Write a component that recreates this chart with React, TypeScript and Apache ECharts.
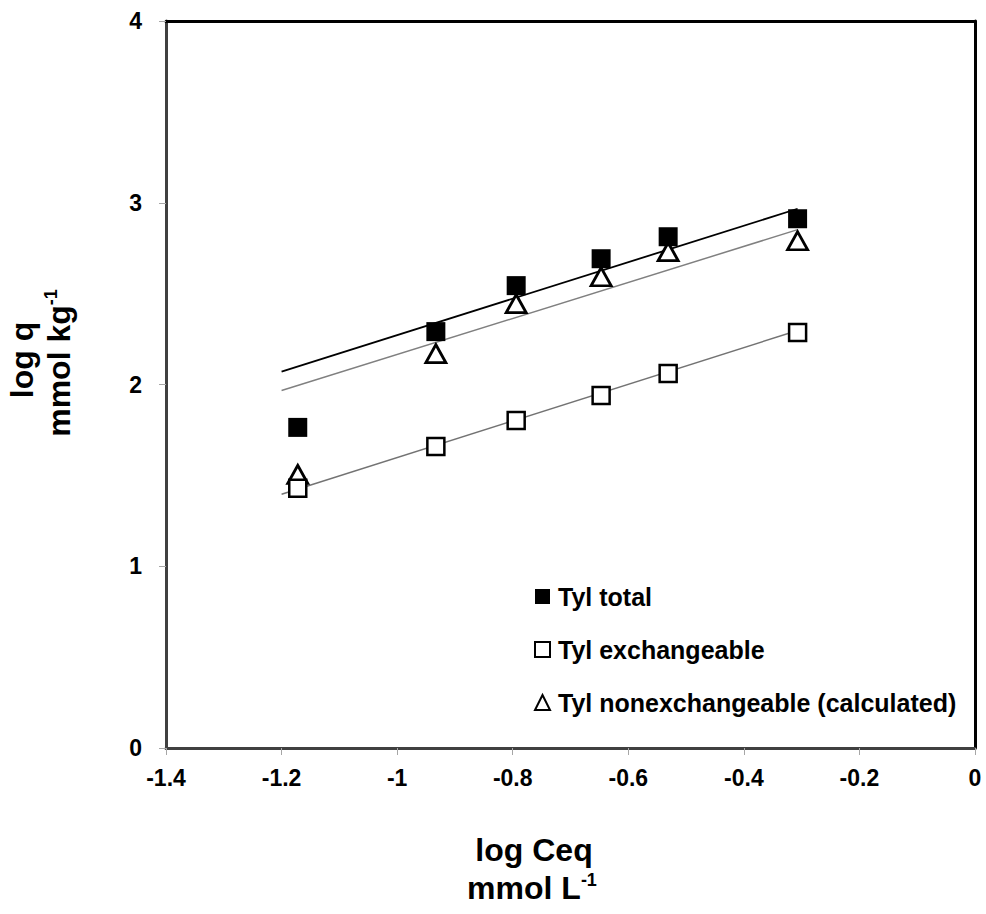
import React, { useEffect, useRef } from "react";
import * as echarts from "echarts";

// Measured points: log Ceq vs log q for each fraction
const logCeq = [-1.172, -0.933, -0.794, -0.647, -0.531, -0.307];
const tylTotal = [1.764, 2.291, 2.544, 2.692, 2.813, 2.912];
const tylExchangeable = [1.429, 1.659, 1.802, 1.94, 2.06, 2.286];
const tylNonexchangeable = [1.505, 2.17, 2.445, 2.593, 2.731, 2.791];

// Linear fit end points (Freundlich lines)
const fitX = [-1.2, -0.307];
const fitTotal = [2.071, 2.967];
const fitNonexchangeable = [1.967, 2.852];
const fitExchangeable = [1.396, 2.297];

const seriesNames = [
  "Tyl total",
  "Tyl exchangeable",
  "Tyl nonexchangeable (calculated)",
];

const FONT = "'Liberation Sans', Arial, Helvetica, sans-serif";

const pair = (xs: number[], ys: number[]) => xs.map((x, i) => [x, ys[i]]);

export default function App() {
  const ref = useRef<HTMLDivElement>(null);

  useEffect(() => {
    if (!ref.current) return;
    const chart = echarts.init(ref.current, undefined, { renderer: "svg" });

    const titleRich = {
      a: { fontSize: 32, fontWeight: "bold", fontFamily: FONT, color: "#000", lineHeight: 35 },
      s: {
        fontSize: 18,
        fontWeight: "bold",
        fontFamily: FONT,
        color: "#000",
        lineHeight: 35,
        verticalAlign: "top",
      },
    };

    chart.setOption({
      animation: false,
      backgroundColor: "#fff",
      grid: { left: 166, right: 11, top: 21, bottom: 166, containLabel: false },
      xAxis: [
        {
          type: "value",
          min: -1.4,
          max: 0,
          interval: 0.2,
          axisLine: { show: true, onZero: false, lineStyle: { color: "#404040", width: 3 } },
          axisTick: { show: true, inside: false, length: 7, lineStyle: { color: "#a6a6a6", width: 1 } },
          splitLine: { show: false },
          axisLabel: {
            margin: 18,
            fontSize: 23,
            fontWeight: "bold",
            fontFamily: FONT,
            color: "#000",
            formatter: (v: number) => String(Number(v.toFixed(1))),
          },
        },
        {
          type: "value",
          position: "top",
          min: -1.4,
          max: 0,
          interval: 0.2,
          axisLine: { show: true, onZero: false, lineStyle: { color: "#000", width: 3 } },
          axisTick: { show: false },
          axisLabel: { show: false },
          splitLine: { show: false },
        },
      ],
      yAxis: [
        {
          type: "value",
          min: 0,
          max: 4,
          interval: 1,
          axisLine: { show: true, onZero: false, lineStyle: { color: "#404040", width: 3 } },
          axisTick: { show: true, inside: false, length: 7, lineStyle: { color: "#a6a6a6", width: 1 } },
          splitLine: { show: false },
          axisLabel: {
            margin: 24,
            fontSize: 23,
            fontWeight: "bold",
            fontFamily: FONT,
            color: "#000",
          },
        },
        {
          type: "value",
          position: "right",
          min: 0,
          max: 4,
          interval: 1,
          axisLine: { show: true, onZero: false, lineStyle: { color: "#000", width: 3 } },
          axisTick: { show: false },
          axisLabel: { show: false },
          splitLine: { show: false },
        },
      ],
      legend: {
        orient: "vertical",
        left: 534,
        top: 584,
        padding: 0,
        itemGap: 28,
        itemWidth: 15,
        itemHeight: 15,
        selectedMode: false,
        textStyle: {
          fontSize: 25,
          lineHeight: 25,
          fontWeight: "bold",
          fontFamily: FONT,
          color: "#000",
          padding: [0, 0, 0, 3],
        },
        data: [
          { name: seriesNames[0], icon: "rect", itemStyle: { color: "#000", borderWidth: 0 } },
          {
            name: seriesNames[1],
            icon: "rect",
            itemStyle: { color: "#fff", borderColor: "#000", borderWidth: 2 },
          },
          {
            name: seriesNames[2],
            icon: "triangle",
            itemStyle: { color: "#fff", borderColor: "#000", borderWidth: 2 },
          },
        ],
      },
      graphic: [
        {
          type: "text",
          x: 534,
          y: 850,
          style: { text: "{a|log Ceq}", rich: titleRich, textAlign: "center", textVerticalAlign: "middle" },
        },
        {
          type: "text",
          x: 532,
          y: 888,
          style: {
            text: "{a|mmol L}{s|-1}",
            rich: titleRich,
            textAlign: "center",
            textVerticalAlign: "middle",
          },
        },
        {
          type: "text",
          x: 22,
          y: 360,
          rotation: Math.PI / 2,
          style: { text: "{a|log q}", rich: titleRich, textAlign: "center", textVerticalAlign: "middle" },
        },
        {
          type: "text",
          x: 59,
          y: 363,
          rotation: Math.PI / 2,
          style: {
            text: "{a|mmol kg}{s|-1}",
            rich: titleRich,
            textAlign: "center",
            textVerticalAlign: "middle",
          },
        },
      ],
      series: [
        {
          name: "fit total",
          type: "line",
          data: pair(fitX, fitTotal),
          symbol: "none",
          silent: true,
          lineStyle: { color: "#000", width: 1.8 },
          z: 1,
        },
        {
          name: "fit nonexchangeable",
          type: "line",
          data: pair(fitX, fitNonexchangeable),
          symbol: "none",
          silent: true,
          lineStyle: { color: "#808080", width: 1.5 },
          z: 1,
        },
        {
          name: "fit exchangeable",
          type: "line",
          data: pair(fitX, fitExchangeable),
          symbol: "none",
          silent: true,
          lineStyle: { color: "#737373", width: 1.5 },
          z: 1,
        },
        {
          name: seriesNames[2],
          type: "scatter",
          data: pair(logCeq, tylNonexchangeable),
          symbol: "triangle",
          symbolSize: [20, 18],
          itemStyle: { color: "#fff", borderColor: "#000", borderWidth: 2.8, opacity: 1 },
          z: 3,
        },
        {
          name: seriesNames[1],
          type: "scatter",
          data: pair(logCeq, tylExchangeable),
          symbol: "rect",
          symbolSize: 17,
          itemStyle: { color: "#fff", borderColor: "#000", borderWidth: 2.5, opacity: 1 },
          z: 3,
        },
        {
          name: seriesNames[0],
          type: "scatter",
          data: pair(logCeq, tylTotal),
          symbol: "rect",
          symbolSize: 19,
          itemStyle: { color: "#000", opacity: 1 },
          z: 3,
        },
      ],
    });

    return () => chart.dispose();
  }, []);

  return (
    <div
      ref={ref}
      style={{ position: "fixed", left: 0, top: 0, width: 986, height: 914, background: "#fff" }}
    />
  );
}
